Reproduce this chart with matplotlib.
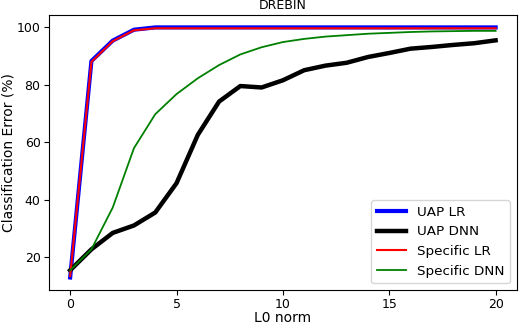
import matplotlib
matplotlib.use("Agg")
import matplotlib.pyplot as plt

l0 = list(range(21))
uap_lr = [13.0, 88.3, 95.4, 99.2, 100.0, 100.0, 100.0, 100.0, 100.0, 100.0, 100.0,
          100.0, 100.0, 100.0, 100.0, 100.0, 100.0, 100.0, 100.0, 100.0, 100.0]
uap_dnn = [15.5, 22.8, 28.5, 31.1, 35.6, 45.8, 62.6, 74.2, 79.6, 79.1, 81.6,
           85.1, 86.7, 87.7, 89.7, 91.1, 92.6, 93.2, 93.9, 94.5, 95.5]
spec_lr = [13.5, 88.0, 95.2, 99.0, 99.7, 99.7, 99.7, 99.7, 99.7, 99.7, 99.7,
           99.7, 99.7, 99.7, 99.7, 99.7, 99.7, 99.7, 99.7, 99.7, 99.7]
spec_dnn = [15.5, 22.8, 37.3, 58.0, 69.8, 76.8, 82.3, 86.9, 90.6, 93.1, 94.9,
            96.0, 96.8, 97.3, 97.8, 98.1, 98.4, 98.6, 98.7, 98.8, 98.8]

fig = plt.figure(figsize=(5.2, 3.24), dpi=100)
ax = fig.add_axes([0.094, 0.105, 0.9, 0.849])
ax.plot(l0, uap_lr, color="blue", lw=3.0, label="UAP LR")
ax.plot(l0, uap_dnn, color="black", lw=3.2, label="UAP DNN")
ax.plot(l0, spec_lr, color="red", lw=1.5, label="Specific LR")
ax.plot(l0, spec_dnn, color="green", lw=1.3, label="Specific DNN")

ax.set_xticks([0, 5, 10, 15, 20])
ax.set_yticks([20, 40, 60, 80, 100])
ax.tick_params(labelsize=9, pad=2.5)
ax.set_xlabel("L0 norm", fontsize=10, labelpad=0)
ax.set_ylabel("Classification Error (%)", fontsize=10, labelpad=1.2)
ax.set_title("DREBIN", fontsize=9, pad=4.5)
ax.legend(loc="lower right", fontsize=9.7, handlelength=2.2)

fig.savefig("out.png", dpi=100)
